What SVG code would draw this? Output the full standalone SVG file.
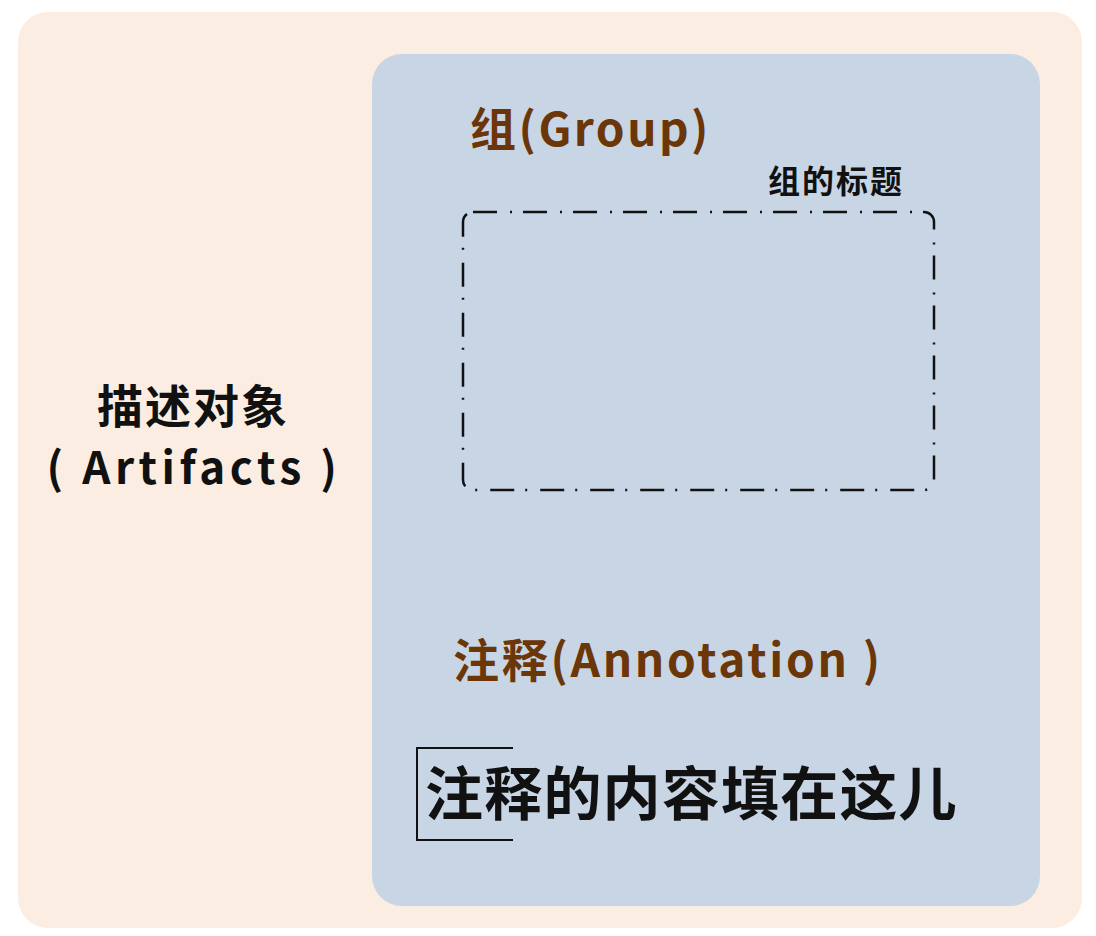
<svg xmlns="http://www.w3.org/2000/svg" width="1096" height="936" viewBox="0 0 1096 936">
<style>
.t{font-family:"Noto Sans CJK SC","Noto Sans",sans-serif;font-weight:bold}
.brown{fill:#6B3608}
.blk{fill:#111}
</style>
<rect width="1096" height="936" fill="#ffffff"/>
<g id="artifacts">
<rect x="18" y="12" width="1064" height="916" rx="30" fill="#FCEDE2"/>
<text class="t blk" x="193" y="423" font-size="46" letter-spacing="2" text-anchor="middle">描述对象</text>
<text class="t blk" x="194" y="484" font-size="44" letter-spacing="4.5" text-anchor="middle">( Artifacts )</text>
</g>
<g id="panel">
<rect x="372" y="54" width="668" height="852" rx="30" fill="#C8D5E5"/>
</g>
<g id="group">
<text class="t brown" x="470" y="146" font-size="46" letter-spacing="2.5">组(Group)</text>
<text class="t blk" x="768" y="193" font-size="32" letter-spacing="2">组的标题</text>
<rect x="463" y="212" width="471" height="278" rx="10" fill="none" stroke="#111" stroke-width="2.5" stroke-dasharray="24 13 2 11"/>
</g>
<g id="annotation">
<text class="t brown" x="453" y="677" font-size="46" letter-spacing="2.7">注释(Annotation )</text>
<path d="M513 748 H417 V840 H513" fill="none" stroke="#111" stroke-width="2"/>
<text class="t blk" x="425" y="815" font-size="58" letter-spacing="1.2">注释的内容填在这儿</text>
</g>
<g id="connectors"/>
</svg>
